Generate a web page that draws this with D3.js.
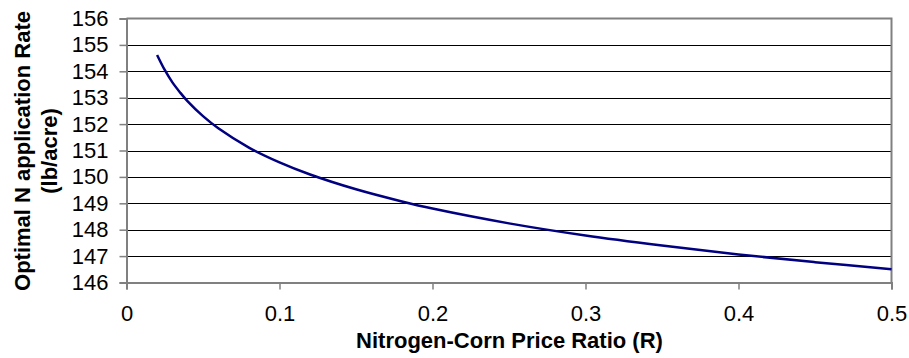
<!DOCTYPE html>
<html>
<head>
<meta charset="utf-8">
<script src="https://cdn.jsdelivr.net/npm/d3@7"></script>
<style>
  html, body { margin: 0; padding: 0; background: #fff; }
  svg { display: block; font-family: "Liberation Sans", Arial, sans-serif; }
</style>
</head>
<body>
<svg id="chart" width="909" height="358"></svg>
<script>
// Data
const ratioR = [0.02, 0.025, 0.03, 0.035, 0.04, 0.05, 0.06, 0.08, 0.10, 0.12, 0.15, 0.18, 0.20, 0.25, 0.30, 0.35, 0.40, 0.45, 0.50];
const optimalN = [154.62, 154.05, 153.58, 153.2, 152.86, 152.3, 151.84, 151.11, 150.55, 150.09, 149.53, 149.07, 148.8, 148.24, 147.78, 147.4, 147.06, 146.77, 146.5];
const xTicks = [0, 0.1, 0.2, 0.3, 0.4, 0.5];
const yTicks = [146, 147, 148, 149, 150, 151, 152, 153, 154, 155, 156];
const xTitle = "Nitrogen-Corn Price Ratio (R)";
const yTitleLines = ["Optimal N application Rate", "(lb/acre)"];

const svg = d3.select("#chart");
const plot = { left: 126.5, right: 891.5, top: 18.5, bottom: 282.5 };

const x = d3.scaleLinear().domain([0, 0.5]).range([plot.left, plot.right]);
const y = d3.scaleLinear().domain([146, 156]).range([plot.bottom, plot.top]);

// gridlines
svg.append("g").selectAll("line").data(yTicks.slice(1, -1)).join("line")
  .attr("x1", plot.left).attr("x2", plot.right)
  .attr("y1", d => Math.round(y(d)) + 0.5).attr("y2", d => Math.round(y(d)) + 0.5)
  .attr("stroke", "#000").attr("stroke-width", 1);

// top and right border (gray)
svg.append("path")
  .attr("d", `M${plot.left},${plot.top}H${plot.right}V${plot.bottom}`)
  .attr("fill", "none").attr("stroke", "#808080").attr("stroke-width", 2);

// axes
const yAxis = d3.axisLeft(y).tickValues(yTicks).tickSize(7).tickPadding(11).tickFormat(d3.format("d"));
const xAxis = d3.axisBottom(x).tickValues(xTicks).tickSize(7).tickPadding(16).tickFormat(d => d === 0 ? "0" : d3.format(".1f")(d));

const gy = svg.append("g").attr("transform", `translate(${plot.left},0)`).call(yAxis);
const gx = svg.append("g").attr("transform", `translate(0,${plot.bottom})`).call(xAxis);
[gx, gy].forEach(g => {
  g.select(".domain").attr("stroke", "#808080").attr("stroke-width", 2);
  g.selectAll(".tick line").attr("stroke", "#808080").attr("stroke-width", 1.5);
  g.selectAll(".tick text").attr("fill", "#000").style("font-size", "22px")
    .style("font-family", "'Liberation Sans', Arial, sans-serif");
});

// curve
const line = d3.line().x((d, i) => x(ratioR[i])).y(d => y(d)).curve(d3.curveCatmullRom.alpha(0.5));
svg.append("path").datum(optimalN)
  .attr("d", line)
  .attr("fill", "none").attr("stroke", "#000080").attr("stroke-width", 2.5);

// x title
svg.append("text")
  .attr("x", 509.5).attr("y", 348)
  .attr("text-anchor", "middle")
  .style("font-size", "22px").style("font-weight", "bold")
  .text(xTitle);

// y title
const yt = svg.append("text")
  .attr("transform", "translate(30,151) rotate(-90)")
  .attr("text-anchor", "middle")
  .style("font-size", "22px").style("font-weight", "bold");
yt.selectAll("tspan").data(yTitleLines).join("tspan")
  .attr("x", 0).attr("dy", (d, i) => i === 0 ? 0 : 27)
  .text(d => d);
</script>
</body>
</html>
